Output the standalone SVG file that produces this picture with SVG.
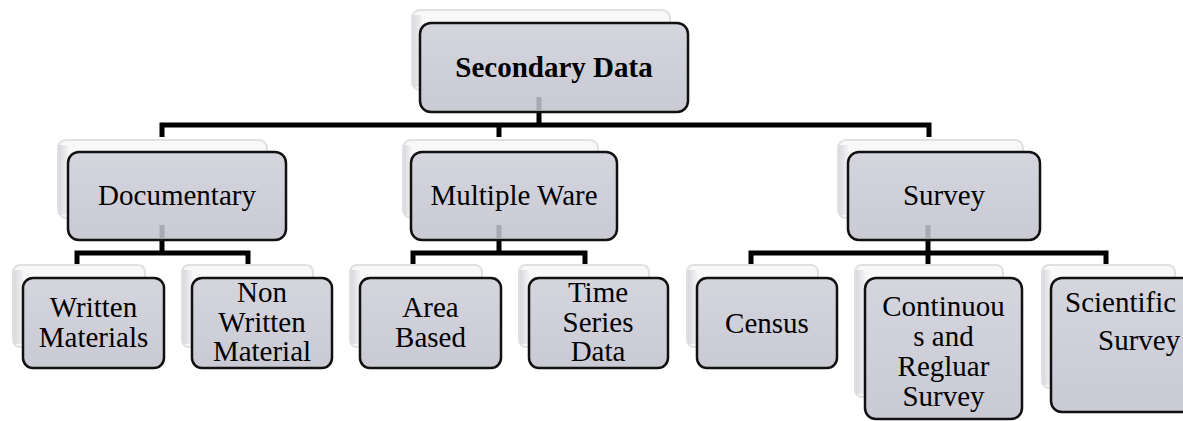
<svg xmlns="http://www.w3.org/2000/svg" width="1183" height="421" viewBox="0 0 1183 421">
<defs>
<linearGradient id="boxFill" x1="0" y1="0" x2="0" y2="1">
<stop offset="0" stop-color="#d5d5de"/>
<stop offset="1" stop-color="#cacad5"/>
</linearGradient>
<linearGradient id="shadeSide" x1="0" y1="0" x2="1" y2="0">
<stop offset="0" stop-color="#d9d9dd"/>
<stop offset="1" stop-color="#f2f2f4"/>
</linearGradient>
</defs>
<style>
.shadow{fill:#f8f8f9;stroke:#e0e0e3;stroke-width:2}
.side{fill:url(#shadeSide)}
.box{fill:url(#boxFill);stroke:#111;stroke-width:2.5}
.ghost{stroke:#a9a9b3;stroke-width:5;fill:none}
.conn{stroke:#000;stroke-width:5;fill:none}
.t{font-family:"Liberation Serif","Times New Roman",serif;font-size:29px;fill:#000;text-anchor:middle}
.b{font-weight:bold}
.s{text-anchor:start}
</style>

<g id="connectors">
<path class="conn" d="M539,112 V125 M162,137 V125 H929 V137 M499,125 V137"/>
<path class="conn" d="M162,240 V253 M77,265 V253 H248 V265"/>
<path class="conn" d="M499,240 V253 M413,265 V253 H585 V265"/>
<path class="conn" d="M928,240 V253 M751,265 V253 H1106 V265 M928,253 V265"/>
</g>

<g id="node-secondary-data">
<rect class="shadow" x="412" y="10" width="258" height="80" rx="8"/>
<rect class="side" x="413" y="15" width="9" height="72"/>
<rect class="box" x="420" y="23" width="268" height="89" rx="11"/>
<line class="ghost" x1="539" y1="97" x2="539" y2="110.5"/>
<text class="t b" x="554" y="77">Secondary Data</text>
</g>

<g id="node-documentary">
<rect class="shadow" x="58" y="140" width="209" height="78" rx="8"/>
<rect class="side" x="59" y="145" width="9" height="70"/>
<rect class="box" x="68" y="152" width="218" height="88" rx="11"/>
<line class="ghost" x1="162" y1="225" x2="162" y2="238.5"/>
<text class="t" x="177" y="205">Documentary</text>
</g>

<g id="node-multiple-ware">
<rect class="shadow" x="403" y="140" width="195" height="78" rx="8"/>
<rect class="side" x="404" y="145" width="7" height="70"/>
<rect class="box" x="411" y="152" width="206" height="88" rx="11"/>
<line class="ghost" x1="499" y1="225" x2="499" y2="238.5"/>
<text class="t" x="514" y="205">Multiple Ware</text>
</g>

<g id="node-survey">
<rect class="shadow" x="838" y="140" width="185" height="78" rx="8"/>
<rect class="side" x="839" y="145" width="9" height="70"/>
<rect class="box" x="848" y="152" width="192" height="88" rx="11"/>
<line class="ghost" x1="928" y1="225" x2="928" y2="238.5"/>
<text class="t" x="944" y="205">Survey</text>
</g>

<g id="node-written-materials">
<rect class="shadow" x="13" y="265" width="132" height="82" rx="7"/>
<rect class="side" x="14" y="270" width="9" height="74"/>
<rect class="box" x="23" y="278" width="141" height="90" rx="10"/>
<text class="t" x="93.5" y="317">Written</text>
<text class="t" x="93.5" y="347">Materials</text>
</g>

<g id="node-non-written-material">
<rect class="shadow" x="182" y="265" width="131" height="82" rx="7"/>
<rect class="side" x="183" y="270" width="9" height="74"/>
<rect class="box" x="192" y="278" width="140" height="90" rx="10"/>
<text class="t" x="262" y="302">Non</text>
<text class="t" x="262" y="332">Written</text>
<text class="t" x="262" y="361">Material</text>
</g>

<g id="node-area-based">
<rect class="shadow" x="350" y="265" width="132" height="82" rx="7"/>
<rect class="side" x="351" y="270" width="9" height="74"/>
<rect class="box" x="360" y="278" width="141" height="90" rx="10"/>
<text class="t" x="430.5" y="317">Area</text>
<text class="t" x="430.5" y="347">Based</text>
</g>

<g id="node-time-series-data">
<rect class="shadow" x="519" y="265" width="130" height="82" rx="7"/>
<rect class="side" x="520" y="270" width="9" height="74"/>
<rect class="box" x="529" y="278" width="139" height="90" rx="10"/>
<text class="t" x="598" y="302">Time</text>
<text class="t" x="598" y="332">Series</text>
<text class="t" x="598" y="361">Data</text>
</g>

<g id="node-census">
<rect class="shadow" x="687" y="265" width="131" height="82" rx="7"/>
<rect class="side" x="688" y="270" width="9" height="74"/>
<rect class="box" x="697" y="278" width="140" height="90" rx="10"/>
<text class="t" x="767" y="333">Census</text>
</g>

<g id="node-continuous-regular-survey">
<rect class="shadow" x="855" y="265" width="148" height="132" rx="7"/>
<rect class="side" x="856" y="270" width="9" height="124"/>
<rect class="box" x="865" y="278" width="157" height="141" rx="11"/>
<text class="t" x="943.5" y="316">Continuou</text>
<text class="t" x="943.5" y="346">s and</text>
<text class="t" x="943.5" y="376">Regluar</text>
<text class="t" x="943.5" y="406">Survey</text>
</g>

<g id="node-scientific-survey">
<rect class="shadow" x="1042" y="265" width="133" height="123" rx="7"/>
<rect class="side" x="1043" y="270" width="8" height="115"/>
<rect class="box" x="1051" y="278" width="150" height="134" rx="11"/>
<text class="t s" x="1065" y="312">Scientific</text>
<text class="t s" x="1098" y="350">Survey</text>
</g>
</svg>
